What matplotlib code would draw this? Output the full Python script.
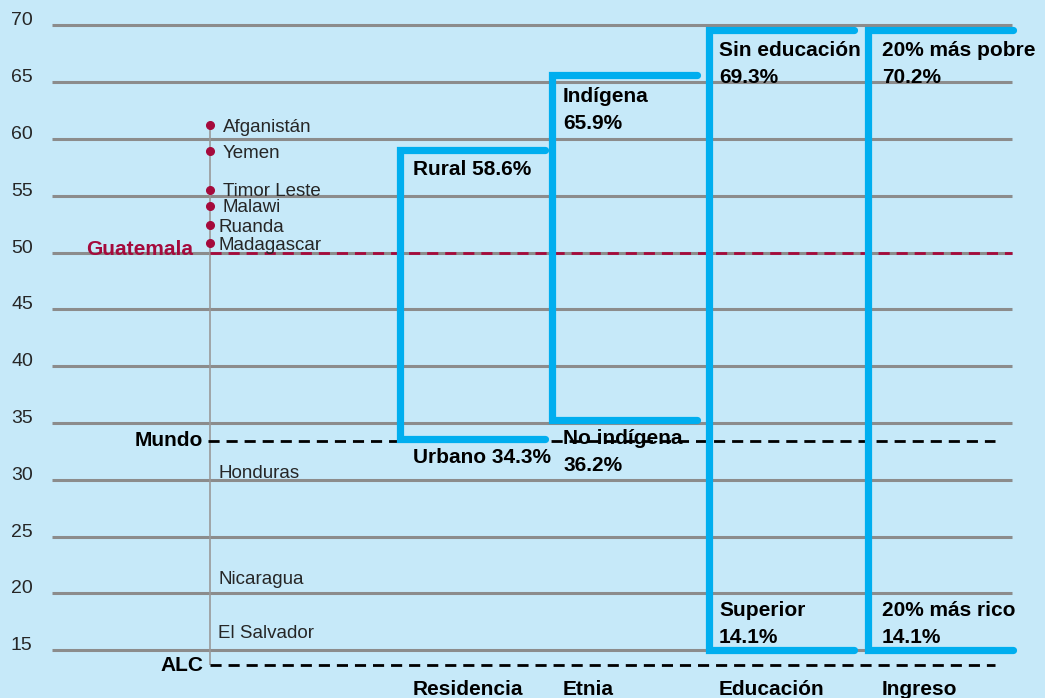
import matplotlib
matplotlib.use('Agg')
import matplotlib.pyplot as plt

# ======================
# Data
# ======================
y_ticks = [15, 20, 25, 30, 35, 40, 45, 50, 55, 60, 65, 70]

# countries on the left strip
countries = ['Afganistán', 'Yemen', 'Timor Leste', 'Malawi', 'Ruanda', 'Madagascar']
country_vals = [61.2, 58.9, 55.5, 54.1, 52.4, 50.8]
other_countries = ['Honduras', 'Nicaragua', 'El Salvador']
other_vals = [30.6, 21.2, 16.5]

# reference lines
guatemala_val = 50.0
mundo_val = 33.4
alc_val = 13.7

# groups (high / low value and labels)
groups = ['Residencia', 'Etnia', 'Educación', 'Ingreso']
high_level = [59.0, 65.6, 69.6, 69.6]
low_level = [33.6, 35.3, 15.0, 15.0]
high_labels = [['Rural 58.6%'], ['Indígena', '65.9%'], ['Sin educación', '69.3%'], ['20% más pobre', '70.2%']]
low_labels = [['Urbano 34.3%'], ['No indígena', '36.2%'], ['Superior', '14.1%'], ['20% más rico', '14.1%']]

# ======================
# Style
# ======================
bg = '#c6e9f9'
blue = '#00aeef'
red = '#a50a3c'
grid_col = '#8c8c8c'
regular = ['Liberation Sans', 'DejaVu Sans']
bold = ['Liberation Sans', 'DejaVu Sans']

fig = plt.figure(figsize=(10.45, 6.98), dpi=100)
fig.patch.set_facecolor(bg)
ax = fig.add_axes([0, 0, 1, 1])
ax.set_facecolor(bg)
ax.set_xlim(0, 1045)
ax.set_ylim(10.8, 72.23)
ax.axis('off')

# gridlines + tick labels
ax.hlines(y_ticks, 52, 1012, color=grid_col, lw=2.2, zorder=1)
for t in y_ticks:
    ax.text(11, t + 0.4, str(t), family=regular, fontsize=14, ha='left', va='center', color='#262626')

# vertical strip line
strip_x = 210
ax.vlines(strip_x, alc_val, country_vals[0], color='#999999', lw=1.2, zorder=2)

# reference lines
dash = (0, (4, 2.5))
ax.hlines(guatemala_val, strip_x, 1012, color=red, lw=2.0, linestyles=dash, zorder=3)
ax.text(193, guatemala_val + 0.25, 'Guatemala', family=bold, fontsize=15, fontweight='bold',
        color=red, ha='right', va='center', zorder=4)
ax.hlines(mundo_val, strip_x - 2, 995, color='black', lw=2.0, linestyles=dash, zorder=3)
ax.text(203, mundo_val + 0.1, 'Mundo', family=bold, fontsize=15, fontweight='bold',
        color='black', ha='right', va='center', zorder=4)
ax.hlines(alc_val, strip_x, 995, color='black', lw=2.0, linestyles=dash, zorder=3)
ax.text(203, alc_val, 'ALC', family=bold, fontsize=15, fontweight='bold',
        color='black', ha='right', va='center', zorder=4)

# countries
ax.plot([strip_x] * len(country_vals), country_vals, 'o', color=red, ms=5.5, zorder=5)
offsets = [13, 13, 13, 13, 8, 8]
for name, v, off in zip(countries, country_vals, offsets):
    ax.text(strip_x + off, v - 0.15, name, family=regular, fontsize=13.5, ha='left', va='center',
            color='#262626', zorder=6)
for name, v in zip(other_countries, other_vals):
    ax.text(strip_x + 8, v, name, family=regular, fontsize=13.5, ha='left', va='center',
            color='#262626', zorder=6)

# brackets
group_x = [400, 552, 709, 868]
width = 145
label_off = [13, 11, 10, 14]
line_gap = 2.38
for i, g in enumerate(groups):
    x0 = group_x[i]
    x1 = x0 + width
    ax.plot([x1, x0, x0, x1], [high_level[i], high_level[i], low_level[i], low_level[i]],
            color=blue, lw=5.2, solid_joinstyle='miter', solid_capstyle='round', zorder=7)
    tx = x0 + label_off[i]
    # high label, below the top edge
    y0 = high_level[i] - (1.7 if i == 0 else 1.85)
    for k, line in enumerate(high_labels[i]):
        ax.text(tx, y0 - k * line_gap, line, family=bold, fontsize=15, fontweight='bold',
                ha='left', va='center', zorder=8)
    # low label
    if low_level[i] > 20:
        y0 = low_level[i] - 1.65
    else:
        y0 = low_level[i] + 3.5
    for k, line in enumerate(low_labels[i]):
        ax.text(tx, y0 - k * line_gap, line, family=bold, fontsize=15, fontweight='bold',
                ha='left', va='center', zorder=8)
    ax.text(tx, 11.55, g, family=bold, fontsize=15, fontweight='bold', ha='left', va='center', zorder=8)

fig.savefig('out.png', dpi=100, facecolor=bg)
